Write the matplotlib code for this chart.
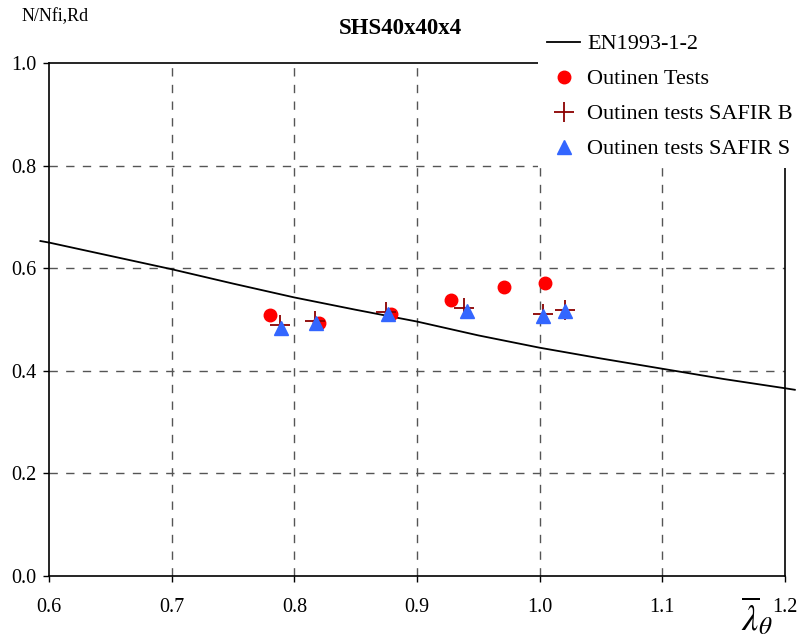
import numpy as np
import matplotlib.pyplot as plt

plt.rcParams['font.family'] = ['Liberation Serif', 'DejaVu Serif']
plt.rcParams['mathtext.fontset'] = 'stix'

# EN1993-1-2 buckling curve
lam_en = [0.593, 0.6, 0.65, 0.7, 0.75, 0.8, 0.85, 0.9, 0.95, 1.0, 1.05, 1.1, 1.15, 1.2, 1.208]
chi_en = [0.653, 0.650, 0.624, 0.598, 0.570, 0.543, 0.519, 0.496, 0.469, 0.445, 0.424, 0.404, 0.384, 0.366, 0.363]

# Outinen tests
lam_test = [0.780, 0.820, 0.879, 0.928, 0.971, 1.004]
chi_test = [0.509, 0.493, 0.511, 0.538, 0.563, 0.571]

# SAFIR B
lam_safb = [0.788, 0.817, 0.875, 0.938, 1.003, 1.021]
chi_safb = [0.489, 0.497, 0.515, 0.522, 0.511, 0.519]

# SAFIR S
lam_safs = [0.789, 0.818, 0.876, 0.941, 1.003, 1.021]
chi_safs = [0.483, 0.493, 0.511, 0.517, 0.507, 0.517]

xticks = [0.6, 0.7, 0.8, 0.9, 1.0, 1.1, 1.2]
yticks = [0.0, 0.2, 0.4, 0.6, 0.8, 1.0]

fig = plt.figure(figsize=(7.99, 6.39), dpi=100)
ax = fig.add_axes([49/799, 63/639, 736/799, 513/639])

ax.set_xlim(0.6, 1.2)
ax.set_ylim(0.0, 1.0)
ax.set_xticks(xticks)
ax.set_yticks(yticks)
ax.set_xticklabels(['%.1f' % v for v in xticks])
ax.set_yticklabels(['%.1f' % v for v in yticks])
ax.tick_params(axis='both', direction='out', length=4, width=1, labelsize=14.5)
ax.tick_params(axis='x', pad=12)
ax.tick_params(axis='y', pad=5)

for s in ax.spines.values():
    s.set_linewidth(1.2)

# dashed grid, only inner lines
for xv in xticks[1:-1]:
    ax.axvline(xv, color='#555555', lw=1, ls=(0, (6, 6)), zorder=1)
for yv in yticks[1:-1]:
    ax.axhline(yv, color='#555555', lw=1, ls=(0, (6, 6)), zorder=1)

ax.plot(lam_en, chi_en, color='black', lw=1.3, clip_on=False, zorder=3,
        label='EN1993-1-2')
ax.plot(lam_test, chi_test, 'o', color='#ff0000', ms=9, ls='none', zorder=4,
        label='Outinen Tests')
ax.plot(lam_safb, chi_safb, '+', color='#8b0000', ms=14, mew=1.3, ls='none',
        zorder=5, label='Outinen tests SAFIR B')
ax.plot(lam_safs, chi_safs, '^', color='#3366ff', ms=10, ls='none', zorder=6,
        label='Outinen tests SAFIR S')

leg = fig.legend(loc='upper left', bbox_to_anchor=(538/799, 1 - 25/639),
                 fontsize=16, handlelength=1.5, handletextpad=0.3,
                 labelspacing=0.65, borderpad=0.4, borderaxespad=0,
                 frameon=True, fancybox=False, framealpha=1,
                 edgecolor='none', facecolor='white')
leg.set_zorder(10)

fig.text(400/799, 1 - 28/639, 'SHS40x40x4', ha='center', va='center',
         fontsize=16.5, fontweight='bold')
fig.text(22/799, 1 - 17/639, 'N/Nfi,Rd', ha='left', va='center', fontsize=13)
fig.text(757/799, 1 - 617/639, r'$\overline{\lambda}_{\theta}$', ha='center',
         va='center', fontsize=26)

fig.savefig('out.png', dpi=100)
